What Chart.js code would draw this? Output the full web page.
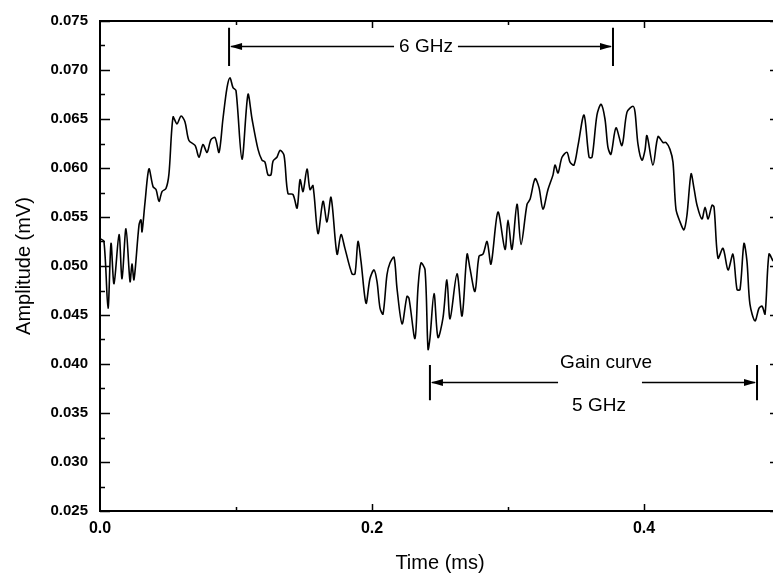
<!DOCTYPE html>
<html>
<head>
<meta charset="utf-8">
<script src="https://cdn.jsdelivr.net/npm/chart.js@4/dist/chart.umd.min.js"></script>
<style>
html, body { margin: 0; padding: 0; background: #fff; overflow: hidden; }
#wrap { width: 782px; height: 581px; }
</style>
</head>
<body>
<div id="wrap"><canvas id="gain-chart" width="782" height="581"></canvas></div>
<script>
const timeMs = [0.0000,0.0029,0.0059,0.0081,0.0103,0.0140,0.0162,0.0191,0.0221,0.0235,0.0250,0.0287,0.0301,0.0309,0.0331,0.0360,0.0390,0.0412,0.0434,0.0456,0.0485,0.0507,0.0537,0.0566,0.0596,0.0625,0.0654,0.0699,0.0728,0.0757,0.0787,0.0816,0.0846,0.0875,0.0904,0.0934,0.0956,0.0978,0.1000,0.1044,0.1088,0.1118,0.1162,0.1191,0.1213,0.1235,0.1257,0.1272,0.1301,0.1324,0.1353,0.1382,0.1419,0.1449,0.1471,0.1493,0.1522,0.1544,0.1566,0.1603,0.1640,0.1669,0.1699,0.1743,0.1772,0.1801,0.1853,0.1875,0.1897,0.1919,0.1956,0.1985,0.2015,0.2037,0.2059,0.2081,0.2110,0.2132,0.2162,0.2184,0.2221,0.2257,0.2272,0.2316,0.2338,0.2360,0.2390,0.2412,0.2426,0.2456,0.2485,0.2522,0.2551,0.2574,0.2625,0.2662,0.2699,0.2721,0.2757,0.2787,0.2816,0.2846,0.2875,0.2926,0.2978,0.3000,0.3029,0.3066,0.3096,0.3140,0.3162,0.3199,0.3228,0.3257,0.3294,0.3331,0.3346,0.3368,0.3397,0.3434,0.3456,0.3485,0.3515,0.3559,0.3596,0.3618,0.3654,0.3684,0.3713,0.3735,0.3757,0.3794,0.3838,0.3875,0.3919,0.3934,0.3956,0.3985,0.4007,0.4022,0.4066,0.4103,0.4140,0.4162,0.4191,0.4213,0.4235,0.4265,0.4294,0.4316,0.4346,0.4368,0.4390,0.4426,0.4449,0.4471,0.4500,0.4515,0.4544,0.4581,0.4618,0.4654,0.4684,0.4706,0.4735,0.4757,0.4779,0.4816,0.4846,0.4868,0.4890,0.4919,0.4949];

const amplitude = [0.0528,0.0525,0.0457,0.0523,0.0482,0.0532,0.0487,0.0538,0.0484,0.0502,0.0486,0.0542,0.0547,0.0535,0.0565,0.0599,0.0581,0.0578,0.0566,0.0576,0.0579,0.0594,0.0652,0.0645,0.0653,0.0647,0.0628,0.0623,0.0611,0.0624,0.0616,0.0629,0.0631,0.0616,0.0650,0.0682,0.0692,0.0682,0.0679,0.0609,0.0675,0.0650,0.0619,0.0608,0.0606,0.0593,0.0593,0.0607,0.0611,0.0618,0.0613,0.0574,0.0573,0.0559,0.0588,0.0576,0.0599,0.0578,0.0582,0.0533,0.0566,0.0545,0.0570,0.0512,0.0532,0.0518,0.0492,0.0492,0.0525,0.0505,0.0462,0.0487,0.0496,0.0484,0.0457,0.0451,0.0491,0.0503,0.0509,0.0477,0.0441,0.0469,0.0467,0.0426,0.0477,0.0503,0.0496,0.0415,0.0426,0.0472,0.0427,0.0447,0.0486,0.0446,0.0492,0.0449,0.0512,0.0497,0.0474,0.0510,0.0512,0.0525,0.0502,0.0555,0.0517,0.0547,0.0517,0.0563,0.0522,0.0563,0.0568,0.0589,0.0580,0.0558,0.0578,0.0593,0.0603,0.0595,0.0611,0.0616,0.0606,0.0603,0.0623,0.0654,0.0611,0.0611,0.0654,0.0665,0.0650,0.0621,0.0614,0.0641,0.0623,0.0657,0.0663,0.0657,0.0624,0.0608,0.0618,0.0633,0.0603,0.0632,0.0626,0.0626,0.0619,0.0606,0.0558,0.0545,0.0537,0.0552,0.0594,0.0579,0.0562,0.0548,0.0560,0.0548,0.0562,0.0560,0.0508,0.0518,0.0496,0.0512,0.0476,0.0476,0.0523,0.0505,0.0461,0.0444,0.0457,0.0459,0.0451,0.0512,0.0505];

const xTickValues = [0.0, 0.2, 0.4];
const yTickValues = [0.025, 0.030, 0.035, 0.040, 0.045, 0.050, 0.055, 0.060, 0.065, 0.070, 0.075];

// bracket annotations (data units)
const brackets = [
    { from: 0.0949, to: 0.3772, at: 0.0724, barTop: 0.0743, barBottom: 0.0704, gap: [0.2162, 0.2632] },
    { from: 0.2426, to: 0.4831, at: 0.0382, barTop: 0.0399, barBottom: 0.0363, gap: [0.3368, 0.3985] }
];
const notes = [
    { text: '6 GHz', x: 0.2397, y: 0.0724 },
    { text: 'Gain curve', x: 0.3721, y: 0.0401 },
    { text: '5 GHz', x: 0.3669, y: 0.0357 }
];

const fontFamily = '"Liberation Sans", Arial, sans-serif';

// frame: top line plus inward tick marks on all four sides
const frameTicks = {
    id: 'frameTicks',
    afterDraw(chart) {
        const { ctx, chartArea: a, scales: { x, y } } = chart;
        ctx.save();
        ctx.strokeStyle = '#000';
        ctx.lineWidth = 2;
        ctx.beginPath();
        ctx.moveTo(a.left - 1, a.top);
        ctx.lineTo(a.right, a.top);
        ctx.stroke();

        ctx.lineWidth = 1.5;
        ctx.beginPath();
        for (let i = 0; i <= 20; i++) {
            const py = Math.round(y.getPixelForValue(0.025 + i * 0.0025)) + 0.5;
            const len = i % 2 === 0 ? 10 : 5;
            ctx.moveTo(a.left, py); ctx.lineTo(a.left + len, py);
            ctx.moveTo(a.right, py); ctx.lineTo(a.right - len, py);
        }
        for (let i = 1; i <= 4; i++) {
            const px = Math.round(x.getPixelForValue(i * 0.1)) + 0.5;
            const len = i % 2 === 0 ? 7 : 4;
            ctx.moveTo(px, a.bottom); ctx.lineTo(px, a.bottom - len);
            ctx.moveTo(px, a.top); ctx.lineTo(px, a.top + len);
        }
        ctx.stroke();
        ctx.restore();
    }
};

const annotations = {
    id: 'annotations',
    afterDatasetsDraw(chart) {
        const { ctx, scales: { x, y } } = chart;
        ctx.save();
        ctx.strokeStyle = '#000';
        ctx.fillStyle = '#000';
        brackets.forEach(b => {
            const x1 = x.getPixelForValue(b.from);
            const x2 = x.getPixelForValue(b.to);
            const py = Math.round(y.getPixelForValue(b.at)) + 0.5;
            const g1 = x.getPixelForValue(b.gap[0]);
            const g2 = x.getPixelForValue(b.gap[1]);
            ctx.lineWidth = 2;
            ctx.beginPath();
            ctx.moveTo(x1, y.getPixelForValue(b.barTop));
            ctx.lineTo(x1, y.getPixelForValue(b.barBottom));
            ctx.moveTo(x2, y.getPixelForValue(b.barTop));
            ctx.lineTo(x2, y.getPixelForValue(b.barBottom));
            ctx.stroke();
            ctx.lineWidth = 1.5;
            ctx.beginPath();
            ctx.moveTo(x1 + 2, py); ctx.lineTo(g1, py);
            ctx.moveTo(g2, py); ctx.lineTo(x2 - 2, py);
            ctx.stroke();
            // arrow heads
            ctx.beginPath();
            ctx.moveTo(x1 + 1, py); ctx.lineTo(x1 + 13, py - 3.5); ctx.lineTo(x1 + 13, py + 3.5);
            ctx.closePath();
            ctx.moveTo(x2 - 1, py); ctx.lineTo(x2 - 13, py - 3.5); ctx.lineTo(x2 - 13, py + 3.5);
            ctx.closePath();
            ctx.fill();
        });
        ctx.font = '19px ' + fontFamily;
        ctx.textAlign = 'center';
        ctx.textBaseline = 'middle';
        notes.forEach(n => {
            ctx.fillText(n.text, x.getPixelForValue(n.x), y.getPixelForValue(n.y));
        });
        ctx.restore();
    }
};

const ctx = document.getElementById('gain-chart').getContext('2d');
const gainChart = new Chart(ctx, {
    type: 'line',
    data: {
        datasets: [{
            data: timeMs.map((t, i) => ({ x: t, y: amplitude[i] })),
            borderColor: '#000',
            borderWidth: 1.6,
            pointRadius: 0,
            tension: 0.3,
            fill: false
        }]
    },
    options: {
        responsive: false,
        animation: false,
        layout: { padding: { top: 18, right: 2, left: 0, bottom: 0 } },
        plugins: { legend: { display: false }, tooltip: { enabled: false } },
        scales: {
            x: {
                type: 'linear',
                min: 0,
                max: 0.5,
                afterBuildTicks: s => { s.ticks = xTickValues.map(v => ({ value: v })); },
                afterFit: s => { s.height = 70; },
                grid: { display: false, drawTicks: false },
                border: { display: true, color: '#000', width: 2 },
                ticks: {
                    color: '#000',
                    padding: 8,
                    maxRotation: 0,
                    font: { family: fontFamily, size: 16, weight: 'bold' },
                    callback: v => Number(v).toFixed(1)
                },
                title: {
                    display: true,
                    text: 'Time (ms)',
                    color: '#000',
                    padding: { top: 0, bottom: 6 },
                    font: { family: fontFamily, size: 20 }
                }
            },
            y: {
                min: 0.025,
                max: 0.075,
                afterBuildTicks: s => { s.ticks = yTickValues.map(v => ({ value: v })); },
                afterFit: s => { s.width = 100; },
                grid: { display: false, drawTicks: false },
                border: { display: true, color: '#000', width: 2 },
                ticks: {
                    color: '#000',
                    padding: 12,
                    font: { family: fontFamily, size: 15, weight: 'bold' },
                    callback: v => Number(v).toFixed(3)
                },
                title: {
                    display: true,
                    text: 'Amplitude (mV)',
                    color: '#000',
                    padding: { top: 12, bottom: 0 },
                    font: { family: fontFamily, size: 20 }
                }
            }
        }
    },
    plugins: [frameTicks, annotations]
});
</script>
</body>
</html>
